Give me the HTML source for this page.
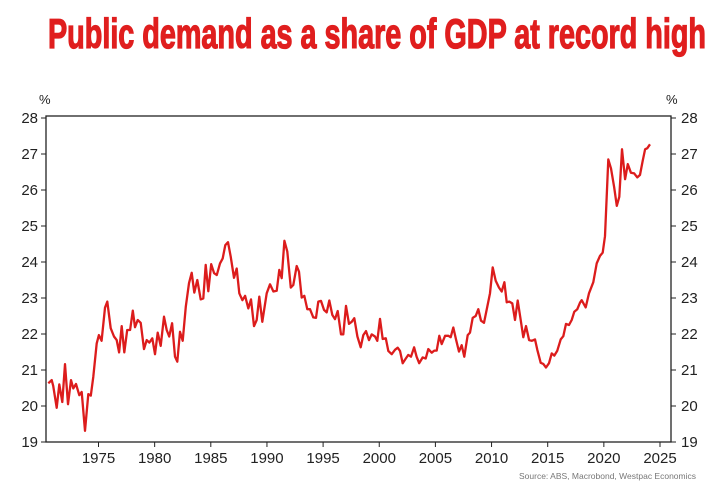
<!DOCTYPE html>
<html><head><meta charset="utf-8"><style>
html,body{margin:0;padding:0;background:#fff;}
svg{display:block;font-family:"Liberation Sans",sans-serif;}
</style></head><body>
<svg id="chart" width="718" height="491" viewBox="0 0 718 491">
<text x="48" y="48" textLength="658" lengthAdjust="spacingAndGlyphs" font-family="'Liberation Sans Narrow','Liberation Sans',sans-serif" font-weight="bold" font-size="42" fill="#e01e1e" stroke="#e01e1e" stroke-width="1.3">Public demand as a share of GDP at record high</text>
<text x="39" y="104" font-size="13" fill="#222">%</text>
<text x="666" y="104" font-size="13" fill="#222">%</text>
<g id="axes"></g>
<path id="series" fill="none" stroke="#dc1c1c" stroke-width="2.3" stroke-linejoin="round"></path>
<text x="696" y="479" text-anchor="end" font-size="8.5" fill="#777">Source: ABS, Macrobond, Westpac Economics</text>
</svg>
<script>
const yTicks=[19,20,21,22,23,24,25,26,27,28];
const xTicks=[1975,1980,1985,1990,1995,2000,2005,2010,2015,2020,2025];
const years=[1970.53,1970.83,1970.97,1971.28,1971.51,1971.78,1972.02,1972.28,1972.55,1972.76,1973.0,1973.29,1973.5,1973.8,1974.09,1974.31,1974.54,1974.84,1975.04,1975.28,1975.58,1975.78,1976.09,1976.38,1976.62,1976.83,1977.07,1977.3,1977.56,1977.81,1978.05,1978.25,1978.49,1978.76,1979.05,1979.29,1979.52,1979.79,1980.03,1980.27,1980.54,1980.83,1981.07,1981.3,1981.55,1981.81,1982.02,1982.26,1982.5,1982.77,1983.06,1983.3,1983.53,1983.8,1984.1,1984.33,1984.55,1984.78,1985.04,1985.29,1985.53,1985.82,1986.06,1986.29,1986.53,1986.77,1987.07,1987.31,1987.54,1987.81,1988.05,1988.34,1988.58,1988.85,1989.09,1989.32,1989.59,1989.98,1990.27,1990.57,1990.87,1991.1,1991.31,1991.55,1991.81,1992.12,1992.35,1992.65,1992.85,1993.09,1993.33,1993.59,1993.83,1994.13,1994.37,1994.57,1994.81,1995.08,1995.32,1995.55,1995.82,1996.06,1996.3,1996.59,1996.8,1997.04,1997.31,1997.55,1997.78,1998.05,1998.35,1998.58,1998.82,1999.09,1999.33,1999.62,1999.83,2000.07,2000.31,2000.58,2000.81,2001.11,2001.4,2001.64,2001.85,2002.09,2002.36,2002.59,2002.83,2003.1,2003.33,2003.56,2003.87,2004.14,2004.37,2004.67,2004.9,2005.12,2005.35,2005.56,2005.86,2006.15,2006.36,2006.59,2006.83,2007.1,2007.34,2007.57,2007.88,2008.08,2008.32,2008.59,2008.82,2009.06,2009.33,2009.62,2009.86,2010.1,2010.37,2010.66,2010.9,2011.14,2011.35,2011.58,2011.85,2012.09,2012.33,2012.6,2012.83,2013.07,2013.34,2013.58,2013.87,2014.07,2014.38,2014.61,2014.85,2015.12,2015.36,2015.59,2015.85,2016.16,2016.39,2016.63,2016.9,2017.14,2017.37,2017.64,2017.88,2018.03,2018.38,2018.68,2019.06,2019.36,2019.66,2019.9,2020.1,2020.4,2020.64,2020.91,2021.15,2021.38,2021.62,2021.89,2022.13,2022.41,2022.7,2022.98,2023.22,2023.46,2023.67,2023.87,2024.11];
const values=[20.63,20.72,20.56,19.95,20.6,20.11,21.16,20.05,20.72,20.49,20.61,20.3,20.39,19.31,20.33,20.29,20.81,21.74,21.97,21.81,22.73,22.9,22.16,21.93,21.83,21.49,22.22,21.49,22.11,22.11,22.65,22.19,22.39,22.31,21.58,21.83,21.76,21.88,21.44,22.04,21.67,22.48,22.11,21.93,22.3,21.37,21.23,22.06,21.81,22.76,23.41,23.7,23.15,23.5,22.96,22.99,23.92,23.19,23.94,23.69,23.64,23.96,24.1,24.47,24.55,24.15,23.56,23.82,23.13,22.94,23.06,22.71,22.96,22.22,22.39,23.04,22.34,23.13,23.38,23.18,23.2,23.78,23.55,24.59,24.29,23.29,23.36,23.89,23.73,23.01,23.06,22.69,22.69,22.46,22.45,22.9,22.92,22.67,22.6,22.93,22.53,22.41,22.64,21.99,21.99,22.78,22.28,22.34,22.44,21.93,21.63,21.97,22.08,21.83,21.99,21.93,21.81,22.42,21.86,21.88,21.53,21.44,21.56,21.62,21.53,21.19,21.32,21.42,21.37,21.63,21.37,21.19,21.35,21.32,21.58,21.48,21.54,21.54,21.95,21.72,21.95,21.95,21.91,22.18,21.85,21.51,21.69,21.37,21.97,22.04,22.45,22.5,22.69,22.37,22.31,22.76,23.13,23.85,23.48,23.29,23.18,23.44,22.88,22.9,22.85,22.39,22.93,22.39,21.91,22.22,21.83,21.81,21.85,21.56,21.2,21.17,21.07,21.19,21.46,21.4,21.53,21.85,21.94,22.28,22.25,22.39,22.62,22.69,22.87,22.94,22.74,23.13,23.44,23.96,24.17,24.26,24.72,26.85,26.6,26.09,25.56,25.81,27.13,26.3,26.72,26.48,26.46,26.35,26.42,26.81,27.13,27.16,27.27];

const L=46,R=671,T=118,B=442;
function xs(y){return 98.5+(y-1975)*11.23;}
function ys(v){return B-(v-19)*(B-T)/9;}
const NS='http://www.w3.org/2000/svg';
const ax=document.getElementById('axes');
function mk(tag,attrs,parent){const e=document.createElementNS(NS,tag);for(const k in attrs)e.setAttribute(k,attrs[k]);(parent||ax).appendChild(e);return e;}
const frame=mk('rect',{x:L,y:T-2,width:R-L,height:B-T+2,fill:'none',stroke:'#222','stroke-width':1.3});


yTicks.forEach(v=>{
  const y=ys(v);
  const t1=mk('line',{x1:L-5,x2:L,y1:y,y2:y,stroke:'#222','stroke-width':1});
  
  
  const t2=mk('line',{x1:R,x2:R+5,y1:y,y2:y,stroke:'#222','stroke-width':1});
  
  
  const l1=mk('text',{x:L-8,y:y+5,'text-anchor':'end','font-size':15,fill:'#222'});
  l1.textContent=v;
  
  
  const l2=mk('text',{x:R+10,y:y+5,'font-size':15,fill:'#222'});
  l2.textContent=v;
  
  
});
xTicks.forEach(yr=>{
  const x=xs(yr);
  const t=mk('line',{x1:x,x2:x,y1:B,y2:B+5,stroke:'#222','stroke-width':1});
  
  
  const l=mk('text',{x:x,y:B+21,'text-anchor':'middle','font-size':15,fill:'#222'});
  l.textContent=yr;
  
  
});
let d='';
years.forEach((yr,i)=>{d+=(i?'L':'M')+xs(yr).toFixed(1)+','+ys(values[i]).toFixed(1);});
document.getElementById('series').setAttribute('d',d);
</script>
</body></html>
